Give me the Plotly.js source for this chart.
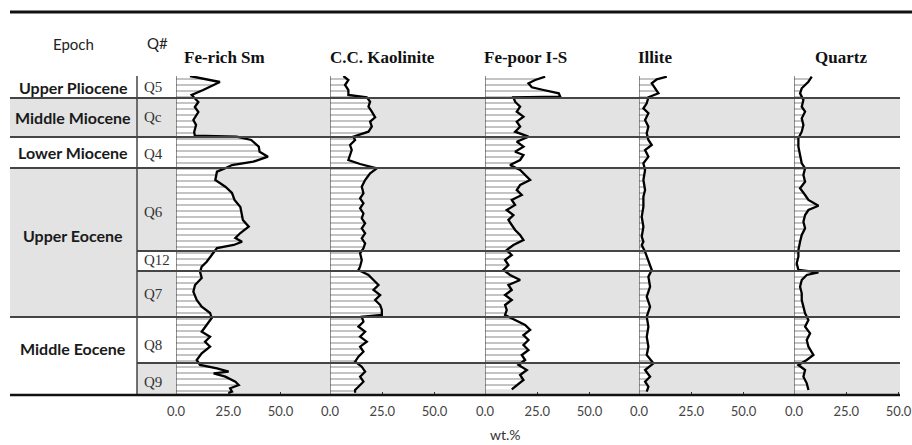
<!DOCTYPE html>
<html><head><meta charset="utf-8">
<script src="https://cdn.plot.ly/plotly-3.0.1.min.js"></script>
<style>html,body{margin:0;padding:0;background:#fff}</style>
</head><body><div id="chart" style="width:912px;height:445px"></div>
<script>
// ---------------- data ----------------
const minerals = ['Fe-rich Sm', 'C.C. Kaolinite', 'Fe-poor I-S', 'Illite', 'Quartz'];
const epochs = ['Upper Pliocene', 'Middle Miocene', 'Lower Miocene', 'Upper Eocene', 'Middle Eocene'];
const epochTop = [0, 22, 61, 92, 241];
const epochBottom = [22, 61, 92, 241, 319];
const epochShaded = [false, true, false, true, false];
const units = ['Q5', 'Qc', 'Q4', 'Q6', 'Q12', 'Q7', 'Q8', 'Q9'];
const unitTop = [0, 22, 61, 92, 175, 195, 241, 287];
const unitBottom = [22, 61, 92, 175, 195, 241, 287, 319];
const unitShaded = [false, true, false, true, false, true, false, true];
const tickValues = [0, 25, 50];
const tickLabels = ['0.0', '25.0', '50.0'];
const xAxisTitle = 'wt.%';
const headerEpoch = 'Epoch';
const headerUnit = 'Q#';

// stratigraphic position (top = 0) and wt.% for each mineral
const depthFeRichSm = [0,6,14,19,26,31,36,44,49,56,59.7,60.7,64,70.7,75.7,80.7,85.7,89,92.3,95.7,104,110.7,117,124,131,139,144,150.7,157,162,165.7,169,172,179,185.7,190.7,195.7,202,209,215.7,224,230.7,237,242,249,255.7,260.7,265.7,270.7,277.3,284,289,292.3,295.7,297.3,300.7,305.7,309,312.3,315.7,317];
const feRichSm = [6.7,21,13,7.5,10.7,9,10.7,8.3,9.6,8.7,9,29,36,39.6,40,44,37,26.8,23.6,19.6,18.8,23.6,26.8,28,30.8,31.6,32,34.8,30.8,28.4,31.6,27.6,19.6,17.1,14.7,12.3,11.5,12.3,9.1,8.3,9.9,12.3,16.3,17.1,14.7,12.3,16.3,13.9,16.3,12.3,9.9,11.5,19.6,25.2,18,23.6,28.4,30,25.9,26.8,25];

const depthKaolinite = [0,4,9,14,19,21.3,25.7,30.7,35.7,41.3,45.7,50.7,55.7,60.7,64,69,74,79,84,88,92.3,97.3,104,110.7,117.3,122.3,127.3,132.3,137.3,142.3,147.3,152.3,157.3,162.3,167.3,172.3,177.3,184,190.7,194,199,204,209,214,219,224,229,234,239,240.7,245.7,250.7,255.7,260.7,265.7,270.7,275.7,280.7,285.7,290.7,295.7,300.7,305.7,310.7,314,316.7];
const ccKaolinite = [6.4,8.8,7.2,8.8,8.8,17.6,19.2,18.4,20,21.6,19.2,20,18.4,11.2,12,9.6,10.4,9.6,8.8,14.4,22.4,19.2,16.8,15.2,16,14.4,16,14.4,16,15.2,16.8,15.2,16.8,15.2,16.8,16,14.4,15.2,14.4,13.6,18.4,20.8,23.2,20.8,24,21.6,24,24.8,24.8,15.2,16,13.6,16.8,14.4,17.6,14.4,16,13.6,12,15.2,16.8,14.4,16,13.6,12,12];

const depthFePoorIS = [0.7,4,7.3,11.3,14,17.3,20.7,21.3,25.7,30.7,35.7,40.7,45.7,50.7,55.7,60.7,65.7,70.7,75.7,79,84,89,94,99,104,109,114,119,124,129,134,139,144,149,154,159,164,169,174,179,184,189,194,199,204,209,214,219,224,229,234,239,244,249,254,259,264,269,274,279,284,289,294,299,304,309,313.3];
const fePoorIS = [28.8,24,20.8,22.4,28,35.3,36,13.6,14.4,16.8,15.2,18.4,15.2,16.8,14.4,20.8,15.2,18.4,14.4,18.4,16.8,12,16.8,19.2,21.6,16.8,15.2,17.6,12.8,14.4,10.4,13.6,11.2,12.8,14.4,16.8,18.4,13.6,10.4,12.8,9.6,11.2,8.8,12,16.8,11.2,12.8,9.6,12.8,9.6,10.4,9.6,14.4,19.2,21.6,18.4,20.8,18.4,20.8,17.6,19.2,16,20,16.8,18.4,15.2,12.8];

const depthIllite = [0.7,3.3,7.3,12.3,17.3,21.3,27.3,32.3,37.3,44,50.7,57.3,64,69,74,80.7,87.3,94,104,114,120.7,130.7,140.7,150.7,160.7,165.7,169,175.7,184,194,200.7,210.7,220.7,230.7,240.7,250.7,260.7,270.7,279,287.3,294,300.7,305.7,310.7,315.7];
const illite = [13.3,8.5,6.1,7.7,9.3,4.5,3.7,2.1,4.5,2.9,4.5,3.7,4.5,6.1,2.9,4.5,2.1,2.9,2.1,2.9,2.1,2.1,1.3,2.1,1.3,2.1,1.3,2.9,4.5,6.1,4.5,5.3,3.7,5.3,3.7,4.5,3.7,4.5,3.7,6.9,2.9,5.3,2.9,4.5,3.7];

const depthQuartz = [0.7,5.7,12.3,17.3,24,30.7,35.7,42.3,49,55.7,62.3,70.7,79,87.3,92.3,99,105.7,112.3,119,124,129.7,134,139,145.7,152.3,159,165.7,174,180.7,187.3,194,196.3,199,204,210.7,217.3,224,230.7,237.3,244,250.7,257.3,264,270.7,279,284,289,294,300.7,307.3,314];
const quartz = [8.5,6.9,3.7,2.9,4.5,3.7,5.3,3.7,4.5,3.7,2.1,2.1,2.9,3.7,5.3,4.5,5.3,2.9,5.3,6.9,11.7,6.9,5.3,4.5,5.3,3.7,2.9,2.1,2.1,1.3,2.1,11.7,6.1,3.7,2.9,3.7,3.7,4.5,5.3,6.9,5.3,7.7,6.1,6.9,9.3,6.1,2.1,5.3,4.5,6.1,6.9];

const seriesDepths = [depthFeRichSm, depthKaolinite, depthFePoorIS, depthIllite, depthQuartz];
const seriesValues = [feRichSm, ccKaolinite, fePoorIS, illite, quartz];

// ---------------- layout geometry (pixels) ----------------
const W = 912, H = 445, ML = 10, MR = 12, MT = 76, MB = 50;
const PW = W - ML - MR, PH = H - MT - MB;
const PX = p => (p - ML) / PW;
const PY = p => (H - MB - p) / PH;
const DEPTH_MAX = 319;
const panelZero = [176, 330, 485, 639, 794];
const panelEnd = [330, 485, 639, 794, 900];
const pxPerUnit = 2.09;
const titleX = [224, 382, 525, 655, 841];
const epochLabelY = [11, 41.5, 76.5, 159, 272];
const unitLabelY = [11, 41, 78, 136, 184, 218, 269, 306];
const colSep = 137;

const GRAY = '#e3e3e3';
const LINE = '#454545';

const layout = {
  width: W, height: H,
  margin: {l: ML, r: MR, t: MT, b: MB, pad: 0},
  paper_bgcolor: '#fff',
  plot_bgcolor: 'rgba(0,0,0,0)',
  showlegend: false,
  yaxis: {domain: [0, 1], range: [DEPTH_MAX, 0], showgrid: false, zeroline: false,
          showticklabels: false, ticks: '', showline: false, fixedrange: true},
  shapes: [],
  annotations: []
};

const traces = [];
minerals.forEach((m, i) => {
  const ax = i === 0 ? 'x' : 'x' + (i + 1);
  const key = i === 0 ? 'xaxis' : 'xaxis' + (i + 1);
  layout[key] = {
    domain: [PX(panelZero[i]), PX(panelEnd[i])],
    range: [0, (panelEnd[i] - panelZero[i]) / pxPerUnit],
    anchor: 'y',
    tickvals: tickValues, ticktext: tickLabels,
    ticks: 'inside', ticklen: 3, tickwidth: 1, tickcolor: '#333',
    showgrid: false, zeroline: false, showline: false,
    tickfont: {family: 'Lato', size: 13, color: '#444'},
    ticklabelstandoff: 7,
    fixedrange: true
  };
  traces.push({
    type: 'scatter', mode: 'lines',
    x: seriesValues[i], y: seriesDepths[i],
    xaxis: ax, yaxis: 'y',
    fill: 'tozerox', fillcolor: '#ffffff',
    fillpattern: {shape: '-', fgcolor: '#a6a6a6', bgcolor: '#ffffff', size: 6, solidity: 0.22},
    line: {color: '#000', width: 2.3},
    hoverinfo: 'skip', name: m
  });
  // zero line of each panel
  layout.shapes.push({type: 'line', xref: ax, yref: 'paper', x0: 0, x1: 0, y0: 0, y1: 1,
    line: {color: LINE, width: 1.2}, layer: 'above'});
  // panel title
  layout.annotations.push({text: '<b>' + m + '</b>', xref: 'paper', yref: 'paper',
    x: PX(titleX[i]), y: PY(58), xanchor: 'center', yanchor: 'middle', showarrow: false,
    font: {family: 'Liberation Serif', size: 17, color: '#111'}});
});

// shaded bands
epochs.forEach((e, i) => {
  if (epochShaded[i]) layout.shapes.push({type: 'rect', xref: 'paper', yref: 'y',
    x0: 0, x1: PX(colSep), y0: epochTop[i], y1: epochBottom[i],
    fillcolor: GRAY, line: {width: 0}, layer: 'below'});
  layout.annotations.push({text: '<b>' + e + '</b>', xref: 'paper', yref: 'y',
    x: PX(73), y: epochLabelY[i], xanchor: 'center', yanchor: 'middle', showarrow: false,
    font: {family: 'Lato', size: 16, color: '#1a1a1a'}});
});
units.forEach((u, i) => {
  if (unitShaded[i]) layout.shapes.push({type: 'rect', xref: 'paper', yref: 'y',
    x0: PX(colSep), x1: 1, y0: unitTop[i], y1: unitBottom[i],
    fillcolor: GRAY, line: {width: 0}, layer: 'below'});
  layout.annotations.push({text: u, xref: 'paper', yref: 'y',
    x: PX(142), y: unitLabelY[i], xanchor: 'left', yanchor: 'middle', showarrow: false,
    font: {family: 'Liberation Serif', size: 15, color: '#333'}});
});
// boundary lines
units.forEach((u, i) => {
  if (i === 0) return;
  const b = unitTop[i];
  const full = epochTop.indexOf(b) >= 0;
  layout.shapes.push({type: 'line', xref: 'paper', yref: 'y',
    x0: full ? 0 : PX(colSep), x1: 1, y0: b, y1: b,
    line: {color: LINE, width: 1.8}, layer: 'above'});
});
// column separator
layout.shapes.push({type: 'line', xref: 'paper', yref: 'paper', x0: PX(colSep), x1: PX(colSep),
  y0: 0, y1: 1, line: {color: LINE, width: 1.5}, layer: 'above'});
// top rule
layout.shapes.push({type: 'line', xref: 'paper', yref: 'paper', x0: 0, x1: PX(915),
  y0: PY(12), y1: PY(12), line: {color: '#111', width: 3}, layer: 'above'});
// bottom rule
layout.shapes.push({type: 'line', xref: 'paper', yref: 'paper', x0: 0, x1: 1,
  y0: 0, y1: 0, line: {color: '#111', width: 2.6}, layer: 'above'});

// headers
layout.annotations.push({text: headerEpoch, xref: 'paper', yref: 'paper', x: PX(73), y: PY(44),
  xanchor: 'center', yanchor: 'middle', showarrow: false,
  font: {family: 'Lato', size: 15, color: '#222'}});
layout.annotations.push({text: headerUnit, xref: 'paper', yref: 'paper', x: PX(157), y: PY(43),
  xanchor: 'center', yanchor: 'middle', showarrow: false,
  font: {family: 'Lato', size: 15, color: '#222'}});
layout.annotations.push({text: xAxisTitle, xref: 'paper', yref: 'paper', x: PX(506), y: PY(434),
  xanchor: 'center', yanchor: 'middle', showarrow: false,
  font: {family: 'Lato', size: 14, color: '#333'}});

Plotly.newPlot('chart', traces, layout, {staticPlot: true, displayModeBar: false});
</script></body></html>
